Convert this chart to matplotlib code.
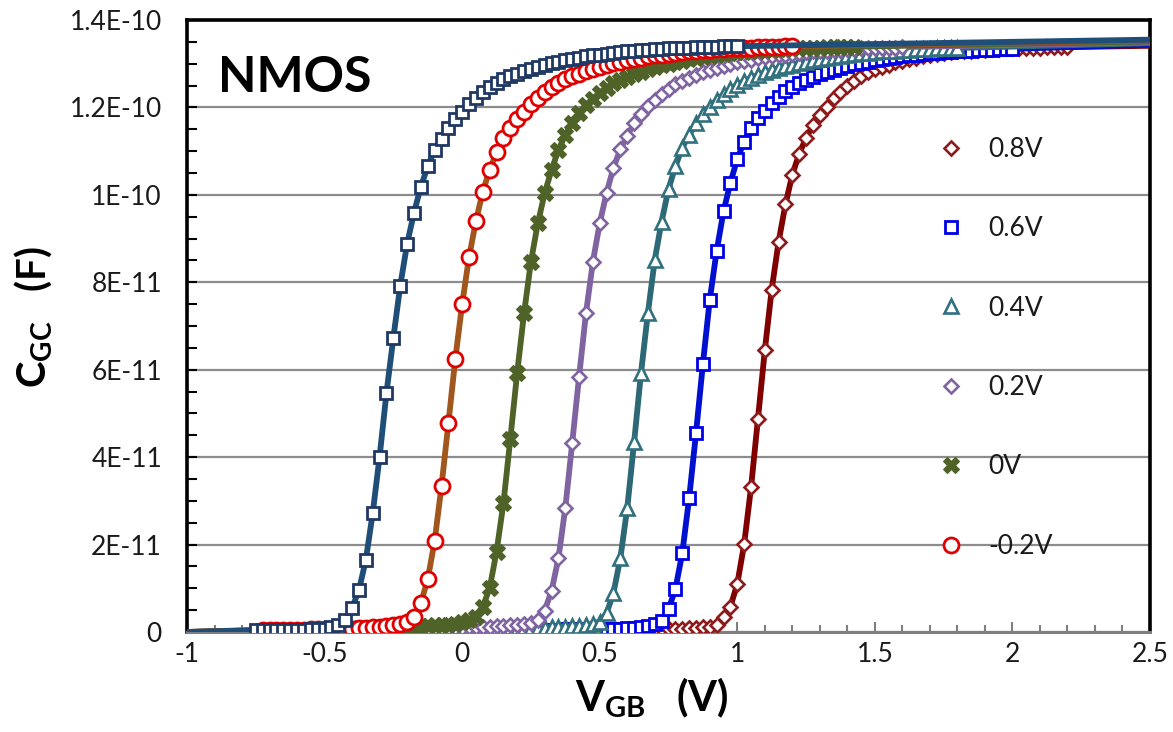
import numpy as np
import matplotlib
matplotlib.use("Agg")
import matplotlib.pyplot as plt
from matplotlib.lines import Line2D
from matplotlib.ticker import MultipleLocator

plt.rcParams['font.family'] = ['Lato', 'DejaVu Sans']
plt.rcParams['mathtext.fontset'] = 'custom'
plt.rcParams['mathtext.rm'] = 'Lato:bold'
plt.rcParams['mathtext.bf'] = 'Lato:bold'
plt.rcParams['mathtext.it'] = 'Lato:bold'

# ---------------- data (C in pF, V_GB sampled every 0.025 V) ----------------
STEP = 0.025

navy_x0 = -0.75
navy_c = [0.4, 0.4, 0.4, 0.4, 0.4, 0.5, 0.5, 0.5, 0.6, 0.7, 0.8, 1.1,
          1.6, 2.7, 5.5, 9.6, 16.5, 27.2, 40.1, 54.7, 67.3, 79.2, 88.8, 95.9, 101.9,
          106.5, 110.3, 112.8, 115.3, 117.4, 119.0,
          120.7, 122.2, 123.5, 124.6, 125.6, 126.4, 127.1, 127.7, 128.3, 128.8, 129.3,
          129.7, 130.1, 130.5, 130.8, 131.1, 131.4, 131.7, 131.9, 132.1, 132.3, 132.5,
          132.7, 132.8, 133.0, 133.1, 133.2, 133.3, 133.4, 133.5, 133.6, 133.7, 133.7,
          133.8, 133.8, 133.9, 133.9, 134.0, 134.0, 134.0]

red_x0 = -0.725
red_c = [0.5, 0.5, 0.5, 0.5, 0.5, 0.5, 0.5, 0.6, 0.6, 0.6, 0.7, 0.7, 0.8, 0.8, 0.9,
         1.0, 1.1, 1.2, 1.4, 1.6, 1.9, 2.4,
         3.5, 6.6, 12.1, 20.8, 33.4, 47.7, 62.4, 75.0, 85.7, 94.0, 100.7, 105.7, 109.7,
         113.0, 115.2, 117.3, 119.0,
         120.7, 122.2, 123.5, 124.6, 125.6, 126.4, 127.1, 127.7, 128.3, 128.8, 129.3,
         129.7, 130.1, 130.5, 130.8, 131.1, 131.4, 131.7, 131.9, 132.1, 132.3, 132.5,
         132.7, 132.8, 133.0, 133.1, 133.2, 133.3, 133.4, 133.5, 133.6, 133.7, 133.7,
         133.8, 133.8, 133.9, 133.9, 134.0, 134.0]

green_x0 = -0.45
green_c = [0.8, 0.8, 0.8, 0.9, 0.9, 0.9, 1.0, 1.0, 1.1, 1.1, 1.2, 1.2, 1.3, 1.4, 1.5,
           1.6, 1.7, 1.9, 2.2, 2.7,
           3.5, 5.8, 10.0, 18.4, 29.4, 44.1, 59.3, 72.9, 84.7, 93.5, 100.4, 105.7, 110.3,
           113.7, 116.4, 118.7,
           120.5, 122.0, 123.3, 124.5, 125.5, 126.3, 127.0, 127.6, 128.2, 128.7, 129.2,
           129.6, 130.0, 130.4, 130.7, 131.0, 131.3, 131.6, 131.8, 132.0, 132.2, 132.4,
           132.6, 132.7, 132.9, 133.0, 133.1, 133.2, 133.3, 133.4, 133.5, 133.6, 133.6,
           133.7, 133.7, 133.8, 133.8, 133.9, 133.9, 133.9]

purple_x0 = -0.2
purple_c = [0.8, 0.8, 0.8, 0.8, 0.9, 0.9, 0.9, 1.0, 1.0, 1.1, 1.1, 1.2, 1.2, 1.3, 1.4,
            1.5, 1.6, 1.8, 2.1,
            2.7, 4.9, 9.4, 16.9, 28.4, 43.2, 58.4, 72.9, 84.6, 93.5, 100.5, 106.2, 110.4,
            113.5, 116.4, 118.5,
            120.3, 121.8, 123.1, 124.3, 125.3, 126.1, 126.8, 127.5, 128.1, 128.6, 129.1,
            129.5, 129.9, 130.3, 130.6, 130.9, 131.2, 131.5, 131.7, 131.9, 132.1, 132.3,
            132.5, 132.6, 132.8, 132.9, 133.0, 133.1, 133.2, 133.3, 133.4, 133.5, 133.5,
            133.6, 133.6, 133.7, 133.7, 133.8]

teal_x0 = 0.0
teal_c = [0.6, 0.6, 0.6, 0.7, 0.7, 0.7, 0.8, 0.8, 0.8, 0.9, 0.9, 1.0, 1.0, 1.1, 1.1,
          1.2, 1.3, 1.4, 1.6, 1.9,
          2.4, 4.3, 8.9, 16.9, 28.3, 43.4, 59.2, 72.9, 85.1, 93.9, 101.3, 106.5, 110.8,
          113.7, 116.4, 118.4,
          120.2, 121.7, 123.0, 124.2, 125.2, 126.0, 126.7, 127.4, 128.0, 128.5, 129.0,
          129.4, 129.8, 130.2, 130.5, 130.8, 131.1, 131.4, 131.6, 131.8, 132.0, 132.2,
          132.4, 132.5, 132.7, 132.8, 132.9, 133.0, 133.1, 133.2, 133.3, 133.4, 133.4,
          133.5, 133.5, 133.6, 133.6]

blue_x0 = 0.2
blue_c = [0.5, 0.5, 0.5, 0.5, 0.5, 0.5, 0.5, 0.6, 0.6, 0.6, 0.6, 0.7, 0.7, 0.7, 0.8,
          0.8, 0.9, 1.0, 1.1, 1.4, 1.8,
          2.6, 5.2, 9.8, 18.0, 30.6, 45.5, 61.3, 76.0, 87.2, 96.2, 102.8, 108.2, 112.2,
          115.2, 117.5, 119.2,
          120.9, 122.4, 123.7, 124.7, 125.6, 126.3, 127.0, 127.6, 128.1, 128.6, 129.1,
          129.5, 129.9, 130.2, 130.5, 130.8, 131.1, 131.3, 131.5, 131.7, 131.9, 132.1,
          132.3, 132.4, 132.5, 132.6, 132.7, 132.8, 132.9, 133.0, 133.1, 133.2, 133.2,
          133.3, 133.3, 133.4]

darkred_x0 = 0.4
darkred_c = [0.4, 0.4, 0.4, 0.4, 0.5, 0.5, 0.5, 0.5, 0.5, 0.6, 0.6, 0.6, 0.7, 0.7, 0.7,
             0.8, 0.8, 0.9, 1.0, 1.1, 1.2,
             1.6, 3.5, 5.8, 11.0, 20.1, 33.1, 48.7, 64.4, 78.3, 89.2, 97.8, 104.6, 109.4,
             113.0, 116.0, 118.3, 120.2, 122.1, 123.6, 124.9, 126.1, 127.1,
             128.0, 128.7, 129.3, 129.8, 130.3, 130.7, 131.1, 131.4, 131.7, 132.0, 132.2,
             132.4, 132.6, 132.8, 132.9, 133.0, 133.1, 133.2, 133.3, 133.4, 133.5, 133.5,
             133.6, 133.6, 133.7, 133.7, 133.8, 133.8, 133.8, 133.8]

# model line end values at V_GB = 2.5 V (pF); model lines start at 0 at V_GB = -1 V
line_x_start = -1.0
line_x_end = 2.5
navy_end, red_end, green_end, purple_end = 135.5, 135.3, 135.1, 134.9
teal_end, blue_end, darkred_end = 134.7, 134.4, 134.1

# ---------------- styles ----------------
series = [
    # label, x0, data, line end, line colour, marker, marker colour, ms, mew
    ('0.8V', darkred_x0, darkred_c, darkred_end, '#800000', 'D', '#8E1B1B', 7.4, 1.9),
    ('0.6V', blue_x0, blue_c, blue_end, '#0010D0', 's', '#0000E6', 9.2, 2.0),
    ('0.4V', teal_x0, teal_c, teal_end, '#2C6875', '^', '#31707E', 10.2, 1.9),
    ('0.2V', purple_x0, purple_c, purple_end, '#8064A2', 'D', '#8064A2', 7.4, 1.9),
    ('0V', green_x0, green_c, green_end, '#4F6228', 'X', '#4F6228', 12.0, 0.8),
    ('-0.2V', red_x0, red_c, red_end, '#A0561C', 'o', '#E00000', 10.8, 2.0),
    ('-0.4V', navy_x0, navy_c, navy_end, '#1F4E79', 's', '#1F3864', 9.2, 2.0),
]

fig = plt.figure(figsize=(11.73, 7.32), dpi=100)
ax = fig.add_axes([187 / 1173, 1 - 632 / 732, (1150 - 187) / 1173, (632 - 20) / 732])

legend_handles = {}
for i, (lab, x0, cvals, cend, lcol, mk, mcol, ms, mew) in enumerate(series):
    c = np.array(cvals) * 1e-12
    x = x0 + STEP * np.arange(len(c))
    lx = np.concatenate([[line_x_start], x, [line_x_end]])
    ly = np.concatenate([[0.0], c, [cend * 1e-12]])
    ax.plot(lx, ly, color=lcol, lw=4.2, solid_capstyle='butt', zorder=3 + 2 * i)
    mfc = mcol if mk == 'X' else 'white'
    ax.plot(x, c, ls='none', marker=mk, ms=ms, mfc=mfc, mec=mcol, mew=mew,
            zorder=4 + 2 * i)
    legend_handles[lab] = Line2D([], [], ls='none', marker=mk, ms=ms, mfc=mfc,
                                 mec=mcol, mew=mew)

ax.set_xlim(-1, 2.5)
ax.set_ylim(0, 1.4e-10)

xticks = [-1, -0.5, 0, 0.5, 1, 1.5, 2, 2.5]
xticklabels = ['-1', '-0.5', '0', '0.5', '1', '1.5', '2', '2.5']
yticks = [0, 2e-11, 4e-11, 6e-11, 8e-11, 1e-10, 1.2e-10, 1.4e-10]
yticklabels = ['0', '2E-11', '4E-11', '6E-11', '8E-11', '1E-10', '1.2E-10', '1.4E-10']
ax.set_xticks(xticks)
ax.set_xticklabels(xticklabels)
ax.set_yticks(yticks)
ax.set_yticklabels(yticklabels)
ax.xaxis.set_minor_locator(MultipleLocator(0.1))
ax.yaxis.set_minor_locator(MultipleLocator(5e-12))

ax.tick_params(axis='x', which='both', direction='in', colors='#7f7f7f',
               labelcolor='#1a1a1a', labelsize=19, pad=7, width=1.5)
ax.tick_params(axis='x', which='major', length=7)
ax.tick_params(axis='x', which='minor', length=5)
ax.tick_params(axis='y', which='both', direction='in', colors='black',
               labelcolor='#1a1a1a', labelsize=19, pad=18, width=1.5)
ax.tick_params(axis='y', which='major', length=7)
ax.tick_params(axis='y', which='minor', length=7)

ax.yaxis.grid(True, which='major', color='#8c8c8c', lw=1.6)
ax.set_axisbelow(True)

for s in ['top', 'left', 'right']:
    ax.spines[s].set_color('black')
    ax.spines[s].set_linewidth(2.6)
ax.spines['bottom'].set_color('#7f7f7f')
ax.spines['bottom'].set_linewidth(2.2)

ax.text(0.032, 0.882, 'NMOS', transform=ax.transAxes, fontsize=36,
        fontweight='bold', va='baseline', ha='left', color='black', zorder=30)

ax.set_xlabel('V$_{\\mathrm{GB}}$   (V)', fontsize=30, fontweight='bold')
ax.xaxis.set_label_coords(0.483, -0.072)
ax.set_ylabel('C$_{\\mathrm{GC}}$   (F)', fontsize=29, fontweight='bold')
ax.yaxis.set_label_coords(-0.138, 0.515)

leg_labels = ['0.8V', '0.6V', '0.4V', '0.2V', '0V', '-0.2V']
leg = ax.legend([legend_handles[l] for l in leg_labels], leg_labels,
                loc='upper left', bbox_to_anchor=(938 / 1173, 1 - 137 / 732),
                bbox_transform=fig.transFigure, frameon=False, fontsize=19,
                handlelength=1.0, handletextpad=0.9, labelspacing=2.06,
                borderpad=0, borderaxespad=0)
leg.set_zorder(40)
for t in leg.get_texts():
    t.set_color('#1a1a1a')

fig.savefig('out.png', dpi=100)
